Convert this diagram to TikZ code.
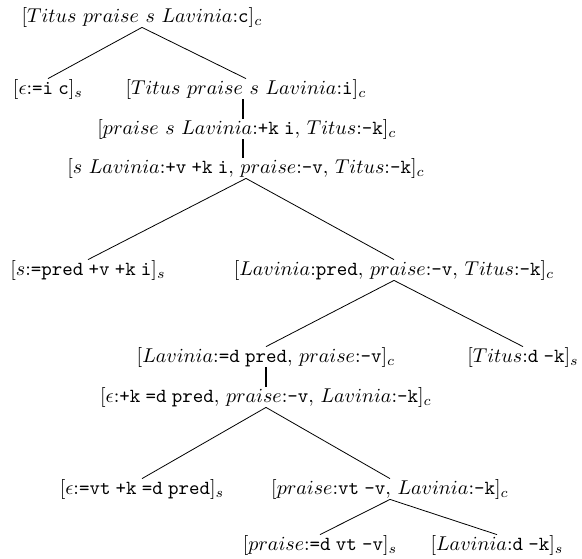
\documentclass[tikz,border=0pt]{standalone}
\usepackage{amsmath,amssymb}
\usepackage{tikz}
\usetikzlibrary{positioning}
\newcommand{\ft}[1]{\text{\ttfamily\spaceskip=0.26em #1}}
\newcommand{\cln}{\mathord{:}}
\newcommand{\cma}{\mathord{,}\ }

\begin{document}
\begin{tikzpicture}[
    x=0.5pt, y=-0.5pt,
    item/.style={inner sep=0pt, anchor=center},
    edge/.style={thin, black},
    move/.style={line width=1pt, black}
]
\useasboundingbox (0,0) rectangle (582,558);

% ---------------- Upper part ----------------
\node[item] (root) at (142,17)  {$[Titus\ praise\ s\ Lavinia\cln\ft{c}]_c$};
\node[item] (eps)  at (48,89)   {$[\epsilon\cln\ft{=i c}]_s$};
\node[item] (tp)   at (246,89)  {$[Titus\ praise\ s\ Lavinia\cln\ft{i}]_c$};
\node[item] (pk)   at (247,129) {$[praise\ s\ Lavinia\cln\ft{+k i}\cma Titus\cln\ft{-k}]_c$};
\node[item] (sv)   at (246,168) {$[s\ Lavinia\cln\ft{+v +k i}\cma praise\cln\ft{-v}\cma Titus\cln\ft{-k}]_c$};

\draw[edge] (root.south) -- (eps.north);
\draw[edge] (root.south) -- (tp.north);
\draw[move] ([xshift=-1.5pt]tp.south) -- ([xshift=-1.5pt]tp.south |- pk.north);
\draw[move] ([xshift=-1.5pt]tp.south |- pk.south) -- ([xshift=-1.5pt]tp.south |- sv.north);

% ---------------- Middle part ----------------
\node[item] (spred) at (88,270)  {$[s\cln\ft{=pred +v +k i}]_s$};
\node[item] (lp)    at (394,270) {$[Lavinia\cln\ft{pred}\cma praise\cln\ft{-v}\cma Titus\cln\ft{-k}]_c$};
\node[item] (ld)    at (266,357) {$[Lavinia\cln\ft{=d pred}\cma praise\cln\ft{-v}]_c$};
\node[item] (td)    at (523,357) {$[Titus\cln\ft{d -k}]_s$};
\node[item] (ek)    at (266,397) {$[\epsilon\cln\ft{+k =d pred}\cma praise\cln\ft{-v}\cma Lavinia\cln\ft{-k}]_c$};

\draw[edge] (sv.south) -- (spred.north);
\draw[edge] (sv.south) -- (lp.north);
\draw[edge] (lp.south) -- (ld.north);
\draw[edge] (lp.south) -- (td.north);
\draw[move] (ld.south) -- (ld.south |- ek.north);

% ---------------- Lower part ----------------
\node[item] (evt) at (142,489) {$[\epsilon\cln\ft{=vt +k =d pred}]_s$};
\node[item] (pvt) at (390,489) {$[praise\cln\ft{vt -v}\cma Lavinia\cln\ft{-k}]_c$};
\node[item] (pd)  at (320,545) {$[praise\cln\ft{=d vt -v}]_s$};
\node[item] (lk)  at (497,545) {$[Lavinia\cln\ft{d -k}]_s$};

\draw[edge] (ek.south) -- (evt.north);
\draw[edge] (ek.south) -- (pvt.north);
\draw[edge] (pvt.south) -- (pd.north);
\draw[edge] (pvt.south) -- (lk.north);

\end{tikzpicture}
\end{document}
